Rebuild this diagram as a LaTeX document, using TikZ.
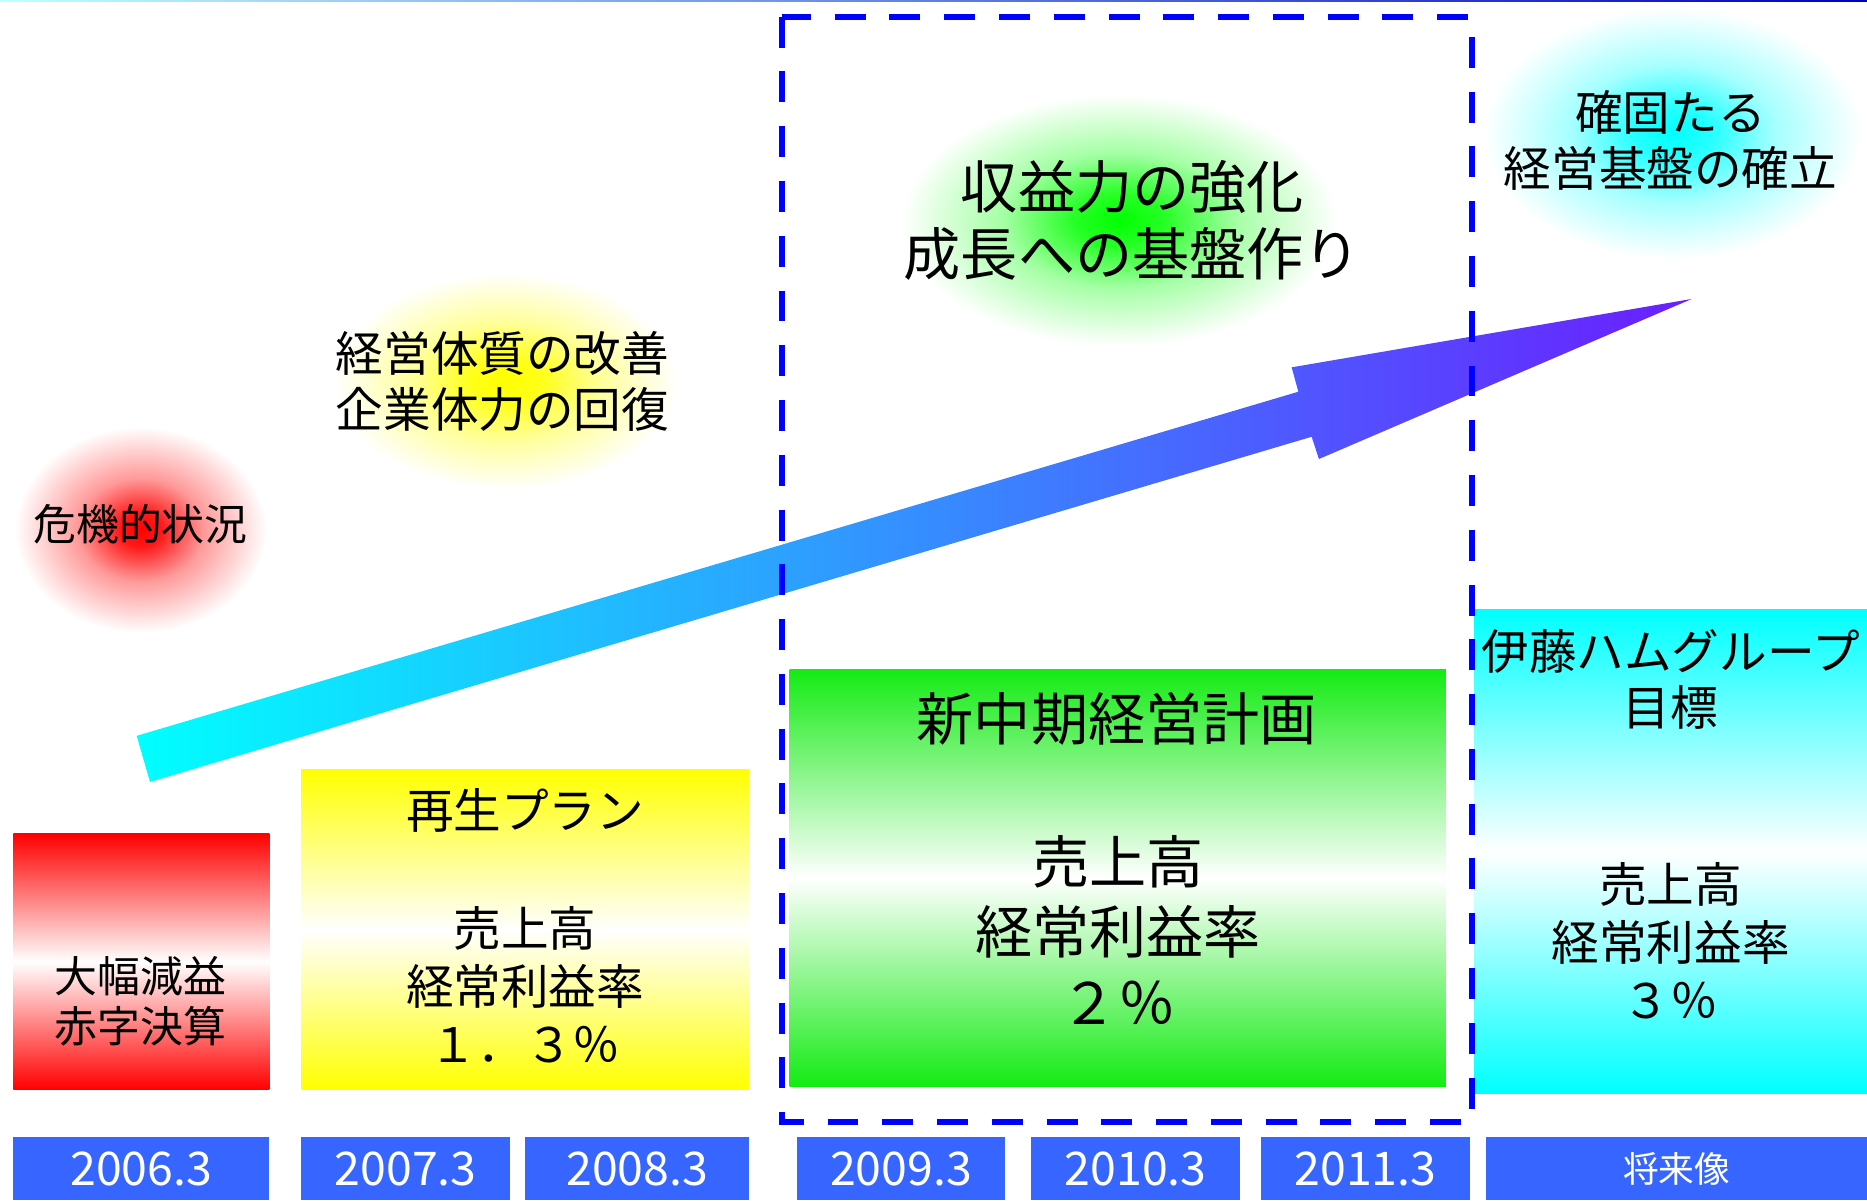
\documentclass[tikz,border=0pt]{standalone}
\usepackage{fontspec}
\setmainfont{Noto Sans CJK JP}
\definecolor{yearblue}{RGB}{54,102,255}
\definecolor{arrowend}{RGB}{106,30,255}
\definecolor{boxgreen}{RGB}{20,235,20}
\definecolor{dashblue}{RGB}{0,0,255}
\pgfdeclareradialshading{glowR}{\pgfpoint{0bp}{0bp}}{color(0bp)=(red);color(4bp)=(red!90!white);color(12bp)=(red!40!white);color(24bp)=(white);color(50bp)=(white)}
\pgfdeclareradialshading{glowY}{\pgfpoint{0bp}{0bp}}{color(0bp)=(yellow);color(5bp)=(yellow!90!white);color(13bp)=(yellow!40!white);color(24bp)=(white);color(50bp)=(white)}
\pgfdeclareradialshading{glowG}{\pgfpoint{0bp}{0bp}}{color(0bp)=(green);color(5bp)=(green!85!white);color(13bp)=(green!35!white);color(24bp)=(white);color(50bp)=(white)}
\pgfdeclareradialshading{glowC}{\pgfpoint{0bp}{0bp}}{color(0bp)=(cyan);color(5bp)=(cyan!85!white);color(13bp)=(cyan!35!white);color(24bp)=(white);color(50bp)=(white)}
\begin{document}
\begin{tikzpicture}[x=1pt,y=-1pt,
  yearbox/.style={fill=yearblue, text=white, inner sep=0, minimum height=53, anchor=north west, font=\fontsize{39}{42}\selectfont},
  panel/.style={inner sep=0, anchor=north west},
  tf/.style={align=center, inner sep=0, text=black},
  t36/.style={tf, font=\fontsize{36}{42}\selectfont},
  t40/.style={tf, font=\fontsize{40}{47}\selectfont},
  t40b/.style={tf, font=\fontsize{40}{49}\selectfont},
  t48/.style={tf, font=\fontsize{48}{56}\selectfont},
  t48b/.style={tf, font=\fontsize{48}{59}\selectfont}]
\useasboundingbox (0,0) rectangle (1568,1008);
\fill[white] (0,0) rectangle (1568,1008);
\shade[left color=cyan!25, right color=blue!75!black] (0,0) rectangle (1568,1.5);

% glows
\shade[shading=glowR] (118,445) ellipse (110 and 90);
\shade[shading=glowY] (425,320) ellipse (150 and 95);
\shade[shading=glowG] (940,185) ellipse (190 and 110);
\shade[shading=glowC] (1405,112) ellipse (165 and 110);

% panels
\node[panel, minimum width=215, minimum height=215, top color=red, bottom color=red, middle color=white] (redbox) at (11,700) {};
\node[panel, minimum width=376, minimum height=269, top color=yellow, bottom color=yellow, middle color=white] (yelbox) at (253,646) {};
\node[panel, minimum width=551, minimum height=350, top color=boxgreen, bottom color=boxgreen, middle color=white] (grnbox) at (663,562) {};
\node[panel, minimum width=330, minimum height=406, top color=cyan, bottom color=cyan, middle color=white] (cynbox) at (1238,512) {};

% year boxes
\node[yearbox, minimum width=215] (y2006) at (11,955) {2006.3};
\node[yearbox, minimum width=175] (y2007) at (253,955) {2007.3};
\node[yearbox, minimum width=188] (y2008) at (441,955) {2008.3};
\node[yearbox, minimum width=175] (y2009) at (669,955) {2009.3};
\node[yearbox, minimum width=175] (y2010) at (866,955) {2010.3};
\node[yearbox, minimum width=175] (y2011) at (1059,955) {2011.3};
\node[yearbox, minimum width=320, font=\fontsize{30}{34}\selectfont] (yfuture) at (1248,955) {将来像};

% arrow
\shade[left color=cyan, right color=arrowend]
  (114.8,618) -- (1090.4,329) -- (1084.8,308.5) -- (1420.7,251.1)
  -- (1107.7,385.5) -- (1101.6,366.8) -- (126,656.7) -- cycle;

% dashed frame
\draw[dashblue, line width=5, dash pattern=on 26 off 20] (657,14) rectangle (1236,942);

% texts
\node[t36] (crisis) at (118,440) {危機的状況};
\node[t40] (improve) at (422,320) {経営体質の改善\\企業体力の回復};
\node[t48] (strength) at (951,185) {収益力の強化\\成長への基盤作り};
\node[t40] (establish) at (1403,118) {確固たる\\経営基盤の確立};

\node[t36] (redtxt) at (118,841) {大幅減益\\赤字決算};
\node[t40] (ytitle) at (441,681) {再生プラン};
\node[t40b] (ybody) at (441,827) {売上高\\経常利益率\\１．３％};
\node[t48] (gtitle) at (938,604) {新中期経営計画};
\node[t48b] (gbody) at (939,781) {売上高\\経常利益率\\２％};
\node[t40] (ctitle) at (1403,571) {伊藤ハムグループ\\目標};
\node[t40b] (cbody) at (1403,790) {売上高\\経常利益率\\３％};
\end{tikzpicture}
\end{document}
